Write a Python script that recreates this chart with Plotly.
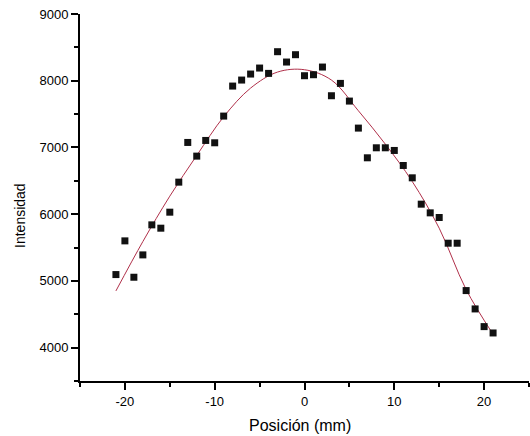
import plotly.graph_objects as go

# Measured data points (Posición in mm, Intensidad)
posicion = [-21, -20, -19, -18, -17, -16, -15, -14, -13, -12, -11, -10, -9, -8, -7,
            -6, -5, -4, -3, -2, -1, 0, 1, 2, 3, 4, 5, 6, 7, 8, 9, 10, 11, 12, 13,
            14, 15, 16, 17, 18, 19, 20, 21]
intensidad = [5095, 5600, 5055, 5390, 5840, 5790, 6030, 6480, 7075, 6870, 7105, 7070,
              7470, 7920, 8010, 8100, 8190, 8110, 8435, 8280, 8390, 8075, 8090, 8205,
              7775, 7960, 7695, 7290, 6845, 6995, 6995, 6955, 6730, 6545, 6150, 6020,
              5950, 5565, 5565, 4855, 4580, 4315, 4220]

# Fitted curve
ajuste_x = [-21, -18, -15, -12, -9, -6, -3, 0, 3, 6, 9, 12, 15, 18, 21]
ajuste_y = [4850, 5590, 6270, 6880, 7460, 7890, 8130, 8165, 8010, 7550, 7050, 6490,
            5790, 4870, 4200]

x_ticks = [-20, -10, 0, 10, 20]
y_ticks = [4000, 5000, 6000, 7000, 8000, 9000]

fig = go.Figure()
fig.add_trace(go.Scatter(
    x=ajuste_x, y=ajuste_y, mode="lines",
    line=dict(color="#B0304A", width=1, shape="spline", smoothing=1.0),
    hoverinfo="skip", showlegend=False))
fig.add_trace(go.Scatter(
    x=posicion, y=intensidad, mode="markers",
    marker=dict(symbol="square", size=7, color="#111111", line=dict(width=0)),
    showlegend=False))

font_family = "Liberation Sans, Arial, sans-serif"
fig.update_layout(
    width=530, height=436,
    margin=dict(l=80, r=1, t=14, b=55),
    paper_bgcolor="white", plot_bgcolor="white",
    font=dict(family=font_family, color="black", size=13),
    showlegend=False,
    xaxis=dict(
        range=[-25, 25], tickmode="array", tickvals=x_ticks,
        ticktext=[str(v) for v in x_ticks],
        showline=True, linecolor="black", linewidth=2,
        ticks="outside", ticklen=7, tickwidth=2, tickcolor="black",
        minor=dict(ticks="outside", ticklen=4, tickwidth=2, tickcolor="black",
                   tickmode="array", tickvals=[-25, -15, -5, 5, 15, 25]),
        showgrid=False, zeroline=False, automargin=False,
        tickfont=dict(size=13),
    ),
    yaxis=dict(
        range=[3500, 9000], tickmode="array", tickvals=y_ticks,
        ticktext=[str(v) for v in y_ticks],
        showline=True, linecolor="black", linewidth=2,
        ticks="outside", ticklen=7, tickwidth=2, tickcolor="black",
        minor=dict(ticks="outside", ticklen=4, tickwidth=2, tickcolor="black",
                   tickmode="array", tickvals=[3500, 4500, 5500, 6500, 7500, 8500]),
        showgrid=False, zeroline=False, automargin=False,
        tickfont=dict(size=13),
    ),
    annotations=[
        dict(text="Posición (mm)", xref="paper", yref="paper", x=0.49, y=-0.12,
             xanchor="center", yanchor="middle", showarrow=False,
             font=dict(size=16)),
        dict(text="Intensidad", xref="paper", yref="paper", x=-0.134, y=0.452,
             xanchor="center", yanchor="middle", showarrow=False, textangle=-90,
             font=dict(size=14)),
    ],
)

fig.write_html(
    "out.html",
    config={"displayModeBar": False},
    post_script="document.body.style.margin='0px';document.body.style.overflow='hidden';",
)
